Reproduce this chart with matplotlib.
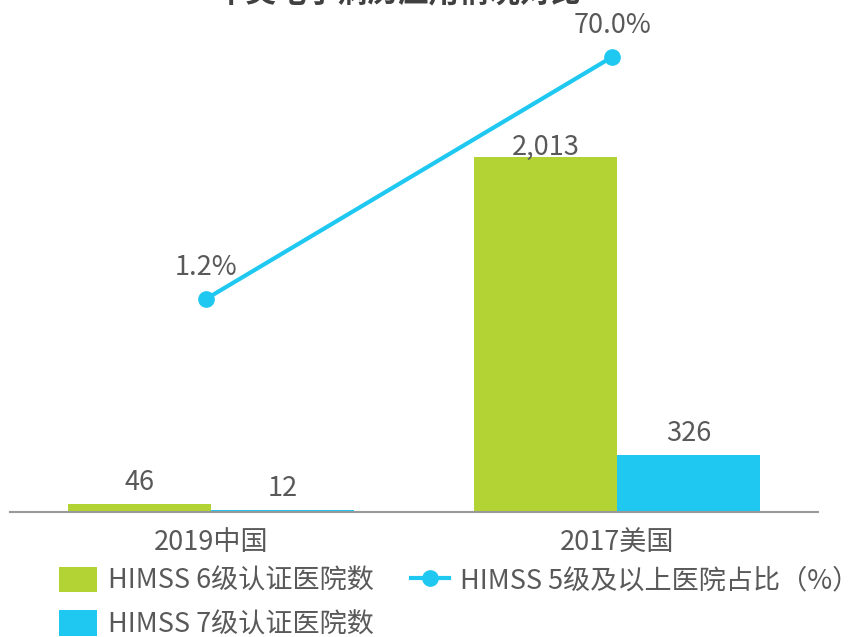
import matplotlib.pyplot as plt
import numpy as np

plt.rcParams['font.family'] = ['Noto Sans CJK SC', 'DejaVu Sans']

##--- data
categories = ['2019中国', '2017美国']
level6 = [46, 2013]
level7 = [12, 326]
level5_pct = [1.2, 70.0]
title = '中美电子病历应用情况对比'

green = '#B3D334'
blue = '#1FC8F0'
txt = '#595959'

##--- figure
fig = plt.figure(figsize=(8.66, 6.37), dpi=100)
ax = fig.add_axes([10/866, 125/637, 808/866, 512/637])

x = np.arange(len(categories))
w = 0.352
b6 = ax.bar(x - w/2, level6, w, color=green, label='HIMSS 6级认证医院数')
b7 = ax.bar(x + w/2, level7, w, color=blue, label='HIMSS 7级认证医院数')

px = 2903 / 512   # data units per pixel
for rect, v in zip(list(b6) + list(b7), level6 + level7):
    pad = 10 if v > 1000 else 21   # tall bar label sits closer (line above)
    ax.text(rect.get_x() + rect.get_width()/2, v + pad*px, f'{v:,}',
            ha='center', va='center', fontsize=19.5, color=txt)

ax.set_xlim(-0.495, 1.495)
ax.set_ylim(0, 2903)
ax.set_xticks(x)
ax.set_xticklabels(categories, fontsize=19.5, color=txt)
ax.tick_params(axis='x', length=0, pad=12)
ax.set_yticks([])
for s in ['top', 'right', 'left']:
    ax.spines[s].set_visible(False)
ax.spines['bottom'].set_color('#999999')
ax.spines['bottom'].set_linewidth(1.5)

##--- line on secondary axis
ax2 = ax.twinx()
xl = x - 0.012
ln, = ax2.plot(xl, level5_pct, color=blue, lw=3, marker='o', ms=11,
               label='HIMSS 5级及以上医院占比（%）')
for xi, v in zip(xl, level5_pct):
    ax2.text(xi, v + 9.0, f'{v:.1f}%', ha='center', va='center',
             fontsize=19.5, color=txt)
ax2.set_ylim(-59.4, 86.2)
ax2.set_yticks([])
for s in ax2.spines.values():
    s.set_visible(False)

##--- legend (column-wise fill: green, blue | line)
handles = [b6, b7, ln]
labels = [h.get_label() for h in handles]
fig.legend(handles, labels, loc='upper left', bbox_to_anchor=(48/866, 1 - 556/637),
           ncol=2, frameon=False, fontsize=19.5, labelcolor=txt,
           handlelength=1.4, handleheight=1.07, handletextpad=0.4,
           columnspacing=1.4, labelspacing=0.57, borderaxespad=0)

fig.text(0.46, 1.01, title, ha='center', va='center', fontsize=22,
         fontweight='bold', color='#404040')

fig.savefig('out.png', dpi=100)
